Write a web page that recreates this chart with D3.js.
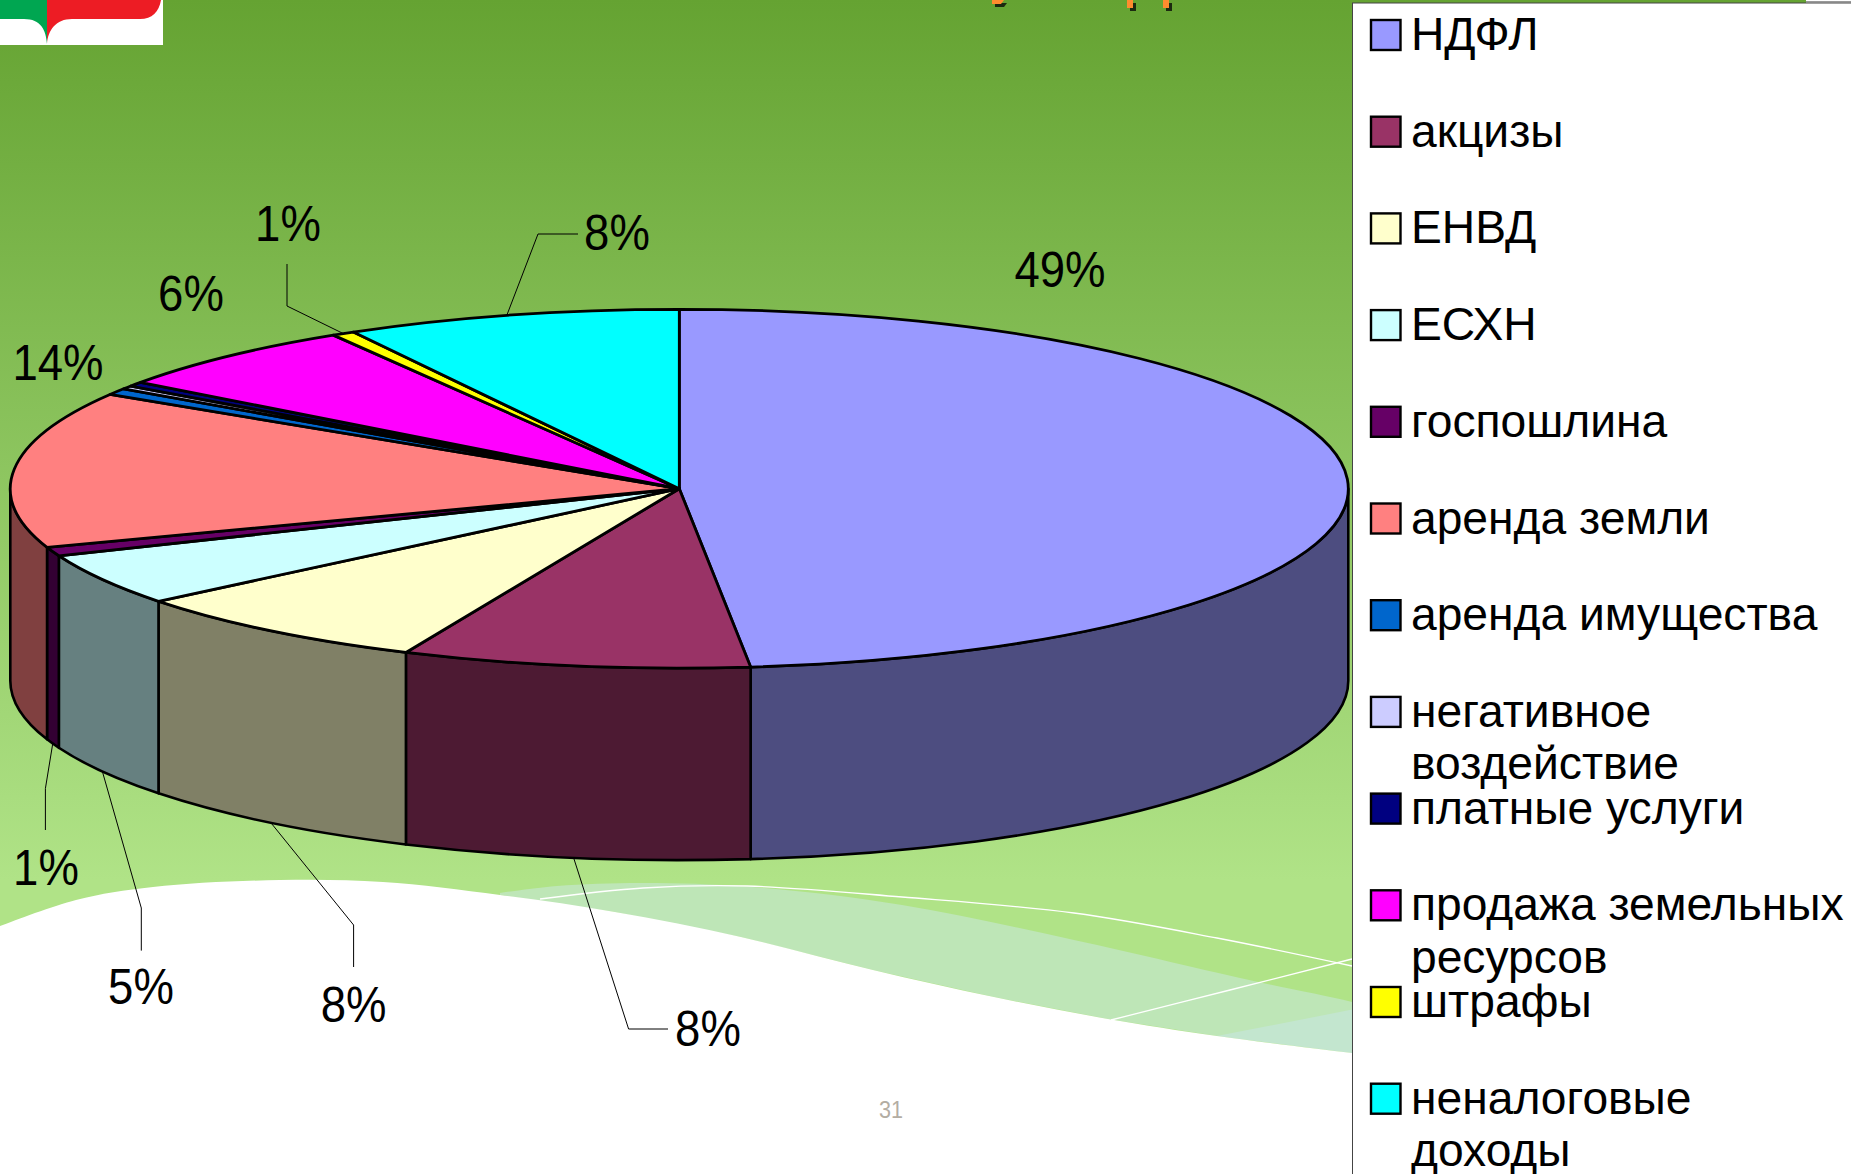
<!DOCTYPE html>
<html><head><meta charset="utf-8">
<script src="https://cdnjs.cloudflare.com/ajax/libs/d3/7.8.5/d3.min.js"></script>
<style>html,body{margin:0;padding:0;background:#fff;overflow:hidden}svg{display:block}text{font-family:"Liberation Sans",Arial,sans-serif}</style>
</head><body><svg id="c" width="1851" height="1174"></svg>
<script>
// Data
const categories=["НДФЛ","акцизы","ЕНВД","ЕСХН","госпошлина","аренда земли","аренда имущества","негативное воздействие","платные услуги","продажа земельных ресурсов","штрафы","неналоговые доходы"];
const values=[48.3,8.4,7.5,4.7,0.8,14.1,0.6,0.3,0.4,6.25,0.55,8.1];
const percentLabels=["49%","8%","8%","5%","1%","14%",null,null,null,"6%","1%","8%"];
// Styles
const palette=["#9999FF","#993366","#FFFFCC","#CCFFFF","#660066","#FF8080","#0066CC","#CCCCFF","#000080","#FF00FF","#FFFF00","#00FFFF"];
const legendLines=[["НДФЛ"],["акцизы"],["ЕНВД"],["ЕСХН"],["госпошлина"],["аренда земли"],["аренда имущества"],["негативное","воздействие"],["платные услуги"],["продажа земельных","ресурсов"],["штрафы"],["неналоговые","доходы"]];
// Label layout per slice: label centre, optional leader elbow/end, and nudge of leader start
const labelLayout=[
 {c:[1060,269]},
 {c:[708,1028],leader:[[628.6,1029],[668,1029]],nudge:-1},
 {c:[353.6,1004],leader:[[353.6,925],[353.6,967]]},
 {c:[141,986],leader:[[141.3,908],[141.3,950.6]]},
 {c:[46,867],leader:[[45.4,788.5],[45.4,830]]},
 {c:[58,362]},null,null,null,
 {c:[191,293]},
 {c:[288,223],leader:[[287,306],[287,264]]},
 {c:[617,232],leader:[[538,234],[578,234]],nudge:-4}
];
const cx=679.3,cy=488.7,rx=669,ry=179.4,depth=192;

const svg=d3.select("#c");
const defs=svg.append("defs");
const g=defs.append("linearGradient").attr("id","bg").attr("gradientUnits","userSpaceOnUse").attr("x1",0).attr("y1",0).attr("x2",0).attr("y2",880);
g.append("stop").attr("offset",0).attr("stop-color","#65A332");
g.append("stop").attr("offset",1).attr("stop-color","#B0E387");
svg.append("rect").attr("width",1851).attr("height",1174).attr("fill","#fff");
svg.append("rect").attr("width",1851).attr("height",1100).attr("fill","url(#bg)");

// Background waves
const curve=d3.line().curve(d3.curveCatmullRom.alpha(0.5));
const lower=[[-5,928],[76,900],[153,887],[280,880],[383,882],[500,895],[615,912],[741,937],[873,970],[994,997],[1108,1019],[1217,1036],[1352,1053],[1400,1058]];
const upperBand=[[500,893],[557,886],[643,883],[752,887],[902,905],[1074,940],[1258,982],[1352,1002],[1400,1015]];
svg.append("path").attr("fill","#BEE6B7").attr("d",curve(upperBand)+"L"+lower.slice(5).reverse().map(p=>p.join(",")).join("L")+"Z");
svg.append("path").attr("fill","#C3E6CF").attr("d","M1217,1036 Q1290,1022 1400,1000 L1400,1058 L1352,1053Z");
svg.append("path").attr("fill","#fff").attr("d",curve(lower)+"L1400,1174L-5,1174Z");
svg.append("path").attr("fill","none").attr("stroke","#fff").attr("stroke-width",1.3).attr("d",curve([[540,899],[643,888],[747,886],[902,897],[1074,913],[1217,938],[1352,966]]));
svg.append("path").attr("fill","none").attr("stroke","#fff").attr("stroke-width",1.3).attr("d",curve([[1111,1020],[1230,990],[1352,959]]));

// Logo
const logo=svg.append("g");
logo.append("rect").attr("width",163).attr("height",45).attr("fill","#fff");
logo.append("path").attr("fill","#00A651").attr("d","M0,0H47V44C46,30 41,19 24,19H0Z");
logo.append("path").attr("fill","#ED1C24").attr("d","M47,0H161C159,12 152,19 140,19H72C56,19 48,30 47,44Z");
// Clipped title remnants
[[992,1004],[1127,1135],[1163,1171]].forEach(([a,b],i)=>{
  const d=i===0?`M${a},0H${b}L${b-3},4H${a}Z`:`M${a},0H${b-2}V8H${a}Z`;
  svg.append("path").attr("d",d).attr("transform","translate(3,3)").attr("fill","#1c2a10");
  svg.append("path").attr("d",d).attr("fill","#FF8C2E");
});

// Pie
const pie=d3.pie().value(d=>d).sort(null)(values);
const px=d3.scaleLinear().domain([-1,1]).range([cx-rx,cx+rx]);
const py=d3.scaleLinear().domain([-1,1]).range([cy-ry,cy+ry]);
const P=(a,dz=0)=>[px(Math.sin(a)),py(-Math.cos(a))+dz];
const arcTo=(a0,a1,dz,sweep)=>{const [x,y]=P(a1,dz);return `A${rx},${ry} 0 ${Math.abs(a1-a0)>Math.PI?1:0} ${sweep} ${x},${y}`;};
const wallLo=Math.PI/2,wallHi=3*Math.PI/2;
const sideColor=c=>{const r=d3.rgb(c);return d3.rgb(r.r/2,r.g/2,r.b/2).formatHex();};
svg.append("g").selectAll("path").data(pie.filter(d=>d.startAngle<wallHi&&d.endAngle>wallLo)).join("path")
 .attr("fill",d=>sideColor(palette[d.index])).attr("stroke","#000").attr("stroke-width",2.6).attr("stroke-linejoin","round")
 .attr("d",d=>{const a=Math.max(d.startAngle,wallLo),b=Math.min(d.endAngle,wallHi);
   const s=P(a),e=P(b,depth);
   return `M${s}`+arcTo(a,b,0,1)+`L${e}`+arcTo(b,a,depth,0)+"Z";});
svg.append("g").selectAll("path").data(pie).join("path")
 .attr("fill",d=>palette[d.index]).attr("stroke","#000").attr("stroke-width",2.8).attr("stroke-linejoin","round")
 .attr("d",d=>`M${cx},${cy}L${P(d.startAngle)}`+arcTo(d.startAngle,d.endAngle,0,1)+"Z");

// Leaders and labels
const lab=svg.append("g");
pie.forEach(d=>{
  const t=percentLabels[d.index],l=labelLayout[d.index]; if(!t)return;
  if(l.leader){
    const mid=(d.startAngle+d.endAngle)/2;
    const front=mid>wallLo&&mid<wallHi;
    const s=P(mid,front?depth:0); s[0]+=(l.nudge||0);
    lab.append("path").attr("fill","none").attr("stroke","#000").attr("stroke-width",1).attr("d",d3.line()([s].concat(l.leader)));
  }
  lab.append("text").text(t).attr("text-anchor","middle").attr("font-size",50).attr("fill","#000")
    .attr("transform",`translate(${l.c[0]},${l.c[1]+17.5}) scale(0.91,1)`);
});

// Page number
svg.append("text").text("31").attr("text-anchor","middle").attr("font-size",24).attr("fill","#B3ADA3").attr("transform","translate(891,1118) scale(0.9,1)");

// Legend
svg.append("rect").attr("x",1806).attr("y",0).attr("width",45).attr("height",4).attr("fill","#fff");
svg.append("rect").attr("x",1806).attr("y",1).attr("width",45).attr("height",1.5).attr("fill","#999");
svg.append("rect").attr("x",1352.5).attr("y",3).attr("width",500).attr("height",1173).attr("fill","#fff").attr("stroke","#444").attr("stroke-width",1);
const rowY=d3.scaleLinear().domain([0,11]).range([35,35+96.7*11]);
const leg=svg.append("g").selectAll("g").data(categories).join("g").attr("transform",(d,i)=>`translate(0,${rowY(i)})`);
leg.append("rect").attr("x",1371).attr("y",-15).attr("width",29.5).attr("height",30).attr("fill",(d,i)=>palette[i]).attr("stroke","#000").attr("stroke-width",2.4);
leg.each(function(d,i){
  legendLines[i].forEach((s,j)=>{
    d3.select(this).append("text").text(s).attr("x",1411).attr("y",15+j*52.5).attr("font-size",46.2).attr("fill","#000");
  });
});
</script></body></html>
